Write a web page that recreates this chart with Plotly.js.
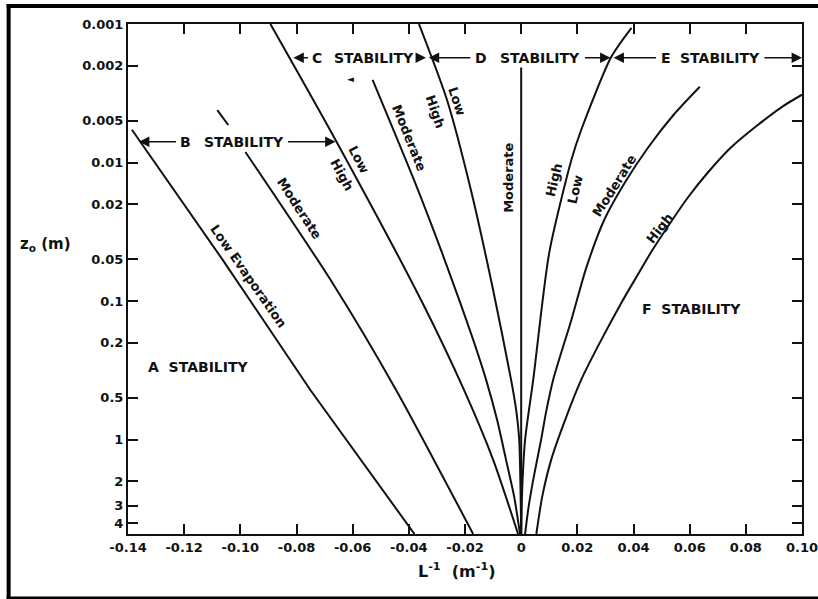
<!DOCTYPE html>
<html>
<head>
<meta charset="utf-8">
<script src="https://cdn.plot.ly/plotly-3.0.1.min.js"></script>
<style>
  html, body { margin: 0; padding: 0; background: #ffffff; }
  #chart { width: 818px; height: 599px; }
</style>
</head>
<body>
<div id="chart"></div>
<script>
// ---- data: x = 1/L (1/m), z = roughness length z0 (m) ----
const lowEvapX = [-0.1386, -0.1064, -0.0750, -0.0380];
const lowEvapZ = [0.0058, 0.050, 0.44, 4.8];

const modBX = [-0.1082, -0.1043, null, -0.0982, -0.0679, -0.0446, -0.0171];
const modBZ = [0.00418, 0.00536, null, 0.00839, 0.0702, 0.436, 4.8];

const lowHighCX = [-0.0893, -0.0661, -0.0357, -0.0204, -0.0100, -0.0011];
const lowHighCZ = [0.001, 0.00687, 0.0979, 0.436, 1.394, 4.8];

const modCX = [-0.0529, -0.0382, -0.0282, -0.0221, -0.0171, -0.0125, -0.0086, -0.0054, -0.0025, -0.0004];
const modCZ = [0.002527, 0.0133, 0.0447, 0.0977, 0.19, 0.369, 0.717, 1.394, 2.578, 4.8];

const lowHighDX = [-0.0364, -0.0264, -0.0179, -0.0100, -0.0036, -0.0018, -0.0007, 0.0];
const lowHighDZ = [0.001, 0.00354, 0.01577, 0.0829, 0.369, 0.607, 1.0, 4.8];

const modDX = [0.0, 0.0];
const modDZ = [0.00206, 4.8];

const highLowEX = [0.0393, 0.0321, 0.0214, 0.0179, 0.0100, 0.0043, 0.0014, 0.0004, 0.0];
const highLowEZ = [0.001065, 0.001725, 0.0058, 0.00954, 0.0447, 0.369, 1.0, 2.183, 4.8];

const modEX = [0.0636, 0.0543, 0.0454, 0.0371, 0.0296, 0.0232, 0.0179, 0.0114, 0.0089, 0.0071, 0.0043, 0.0025, 0.0014];
const modEZ = [0.00284, 0.00452, 0.00769, 0.01376, 0.02587, 0.0574, 0.1362, 0.369, 0.628, 1.0, 1.944, 3.2, 4.8];

const highFX = [0.1000, 0.0929, 0.0839, 0.0746, 0.0664, 0.0593, 0.0529, 0.0468, 0.0411, 0.0357, 0.0282, 0.0214, 0.0157, 0.0107, 0.0075, 0.0054];
const highFZ = [0.00324, 0.00396, 0.00543, 0.00782, 0.01185, 0.01795, 0.02764, 0.04257, 0.06668, 0.1027, 0.1963, 0.369, 0.717, 1.394, 2.578, 4.8];

// axis ticks
const xTickVals = [-0.14, -0.12, -0.10, -0.08, -0.06, -0.04, -0.02, 0, 0.02, 0.04, 0.06, 0.08, 0.10];
const xTickText = ['-0.14', '-0.12', '-0.10', '-0.08', '-0.06', '-0.04', '-0.02', '0', '0.02', '0.04', '0.06', '0.08', '0.10'];
const yTickVals = [0.001, 0.002, 0.005, 0.01, 0.02, 0.05, 0.1, 0.2, 0.5, 1, 2, 3, 4];
const yTickText = ['0.001', '0.002', '0.005', '0.01', '0.02', '0.05', '0.1', '0.2', '0.5', '1', '2', '3', '4'];

// curve labels: text, x, z, angle
const curveLabels = [
  ['Low Evaporation', -0.0971, 0.0668, 55],
  ['Moderate', -0.0790, 0.0215, 57],
  ['Low', -0.0579, 0.00955, 62],
  ['High', -0.0639, 0.01225, 62],
  ['Moderate', -0.0400, 0.00662, 68],
  ['Low', -0.0229, 0.00364, 71],
  ['High', -0.0307, 0.00430, 71],
  ['Moderate', -0.0043, 0.01288, -90],
  ['High', 0.0118, 0.01330, -77],
  ['Low', 0.0193, 0.01570, -77],
  ['Moderate', 0.0332, 0.01460, -58],
  ['High', 0.0493, 0.0300, -52]
];

// plain stability class labels: text, x, z
const classLabels = [
  ['A  STABILITY', -0.1150, 0.297],
  ['F  STABILITY', 0.0607, 0.1150]
];

// arrowed stability class labels: text, arrow tip x, tip z, text offset from tip (px)
const arrowLabels = [
  ['B', -0.1361, 0.00708, 47], ['STABILITY', -0.0661, 0.00708, -92],
  ['C', -0.0811, 0.001754, 24], ['STABILITY', -0.0339, 0.001754, -52],
  ['D', -0.0329, 0.001754, 52], ['STABILITY', 0.0318, 0.001754, -70],
  ['E', 0.0329, 0.001754, 52], ['STABILITY', 0.1000, 0.001754, -82]
];

const INK = '#111111';
const FONT = 'DejaVu Sans';

function curve(x, z, shape) {
  return {
    x: x, y: z, type: 'scatter', mode: 'lines',
    line: { color: INK, width: 2, shape: shape || 'spline', smoothing: 0.7 },
    connectgaps: false, hoverinfo: 'skip', showlegend: false
  };
}

const traces = [
  curve(lowEvapX, lowEvapZ, 'linear'),
  curve(modBX, modBZ),
  curve(lowHighCX, lowHighCZ),
  curve(modCX, modCZ),
  curve(lowHighDX, lowHighDZ),
  curve(modDX, modDZ, 'linear'),
  curve(highLowEX, highLowEZ),
  curve(modEX, modEZ),
  curve(highFX, highFZ)
];

const annotations = [];
curveLabels.forEach(function (c) {
  annotations.push({
    text: c[0], x: c[1], y: Math.log10(c[2]), xref: 'x', yref: 'y',
    textangle: c[3], showarrow: false, xanchor: 'center', yanchor: 'middle',
    font: { family: FONT, size: 13, color: INK, weight: 'bold' }
  });
});
classLabels.forEach(function (c) {
  annotations.push({
    text: c[0], x: c[1], y: Math.log10(c[2]), xref: 'x', yref: 'y',
    showarrow: false, xanchor: 'center', yanchor: 'middle',
    font: { family: FONT, size: 14, color: INK, weight: 'bold' }
  });
});
arrowLabels.forEach(function (a) {
  annotations.push({
    text: a[0], x: a[1], y: Math.log10(a[2]), xref: 'x', yref: 'y',
    showarrow: true, ax: a[3], ay: 0, arrowhead: 2, arrowsize: 1.3,
    arrowwidth: 1.6, arrowcolor: INK, standoff: 0, borderpad: 4,
    font: { family: FONT, size: 14, color: INK, weight: 'bold' }
  });
});
// small stray arrow mark
annotations.push({
  text: '◄', x: -0.0607, y: Math.log10(0.00249), xref: 'x', yref: 'y',
  showarrow: false, font: { family: FONT, size: 9, color: INK }
});
// axis titles
annotations.push({
  text: 'z<sub>o</sub> (m)', xref: 'paper', yref: 'paper', x: -0.1217, y: 0.5667,
  showarrow: false, xanchor: 'center', yanchor: 'middle',
  font: { family: FONT, size: 15, color: INK, weight: 'bold' }
});
annotations.push({
  text: 'L<sup>-1</sup>  (m<sup>-1</sup>)', xref: 'paper', yref: 'paper', x: 0.488, y: -0.0706,
  showarrow: false, xanchor: 'center', yanchor: 'middle',
  font: { family: FONT, size: 16, color: INK, weight: 'bold' }
});

// outer frame of the figure
const frame = [
  { type: 'line', xref: 'paper', yref: 'paper', x0: -0.180, x1: 1.03, y0: 1.0353, y1: 1.0353, line: { color: '#000', width: 4 } },
  { type: 'line', xref: 'paper', yref: 'paper', x0: -0.1771, x1: -0.1771, y0: 1.039, y1: -0.129, line: { color: '#000', width: 4 } },
  { type: 'line', xref: 'paper', yref: 'paper', x0: -0.180, x1: 1.03, y0: -0.1254, y1: -0.1254, line: { color: '#000', width: 3 } }
];

const axisCommon = {
  showgrid: false, zeroline: false, showline: true, linecolor: INK, linewidth: 2,
  mirror: 'ticks', ticks: 'inside', ticklen: 10, tickwidth: 2, tickcolor: INK,
  tickmode: 'array', ticklabeloverflow: 'allow',
  tickfont: { family: FONT, size: 13, color: INK, weight: 'bold' }
};

const layout = {
  width: 818, height: 599,
  margin: { l: 128, r: 16, t: 24, b: 65 },
  paper_bgcolor: '#ffffff', plot_bgcolor: '#ffffff',
  showlegend: false,
  xaxis: Object.assign({}, axisCommon, {
    range: [-0.14, 0.10], tickvals: xTickVals, ticktext: xTickText
  }),
  yaxis: Object.assign({}, axisCommon, {
    type: 'log', range: [Math.log10(4.8), -3], tickvals: yTickVals, ticktext: yTickText
  }),
  annotations: annotations,
  shapes: frame
};

Plotly.newPlot('chart', traces, layout, { staticPlot: true, displayModeBar: false });
</script>
</body>
</html>
